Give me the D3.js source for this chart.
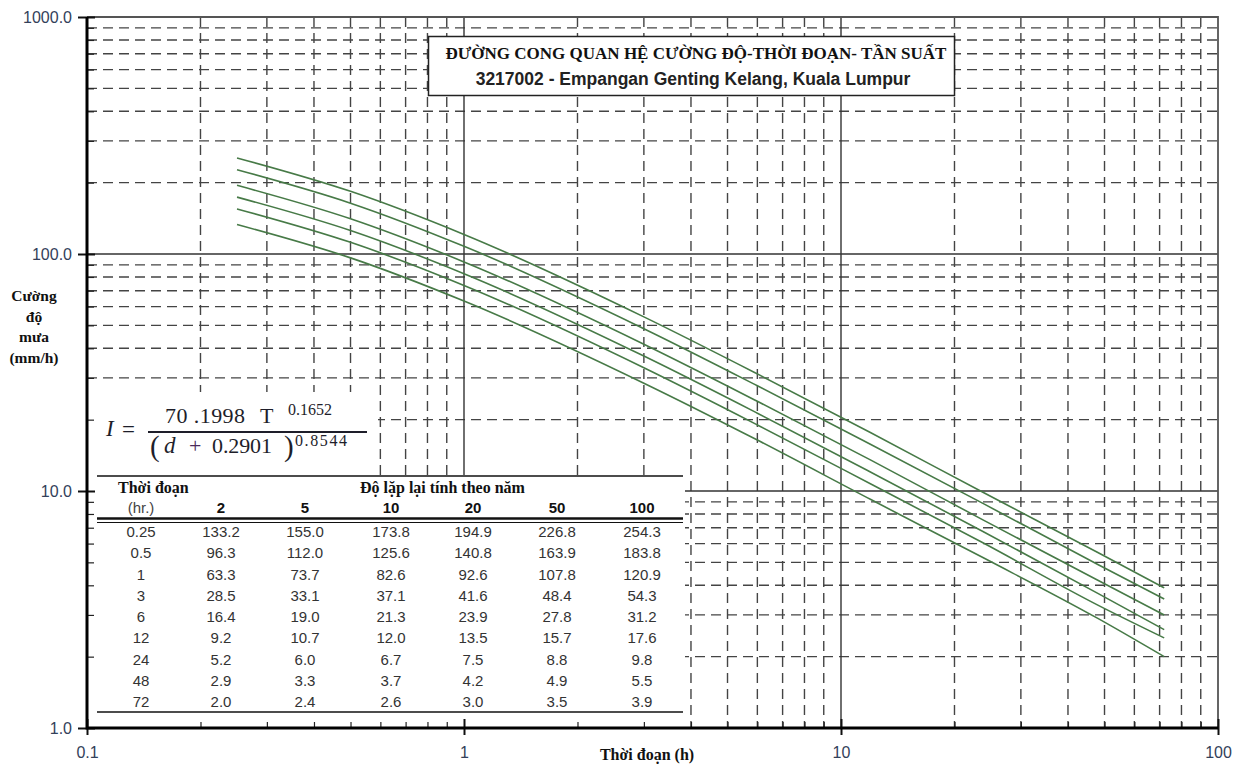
<!DOCTYPE html>
<html>
<head>
<meta charset="utf-8">
<script src="https://cdn.jsdelivr.net/npm/d3@7"></script>
<style>
  body { margin: 0; background: #fff; }
  svg { display: block; }
</style>
</head>
<body>
<div id="chart"></div>
<script>
const durations = [0.25, 0.5, 1, 3, 6, 12, 24, 48, 72];
const returnPeriods = [2, 5, 10, 20, 50, 100];
const intensity2 = [133.2, 96.3, 63.3, 28.5, 16.4, 9.2, 5.2, 2.9, 2.0];
const intensity5 = [155.0, 112.0, 73.7, 33.1, 19.0, 10.7, 6.0, 3.3, 2.4];
const intensity10 = [173.8, 125.6, 82.6, 37.1, 21.3, 12.0, 6.7, 3.7, 2.6];
const intensity20 = [194.9, 140.8, 92.6, 41.6, 23.9, 13.5, 7.5, 4.2, 3.0];
const intensity50 = [226.8, 163.9, 107.8, 48.4, 27.8, 15.7, 8.8, 4.9, 3.5];
const intensity100 = [254.3, 183.8, 120.9, 54.3, 31.2, 17.6, 9.8, 5.5, 3.9];
const xTicks = [0.1, 1, 10, 100];
const yTicks = [1, 10, 100, 1000];

const series = [intensity2, intensity5, intensity10, intensity20, intensity50, intensity100];

const width = 1251;
const height = 764;
const plot = { left: 87, right: 1218, top: 17, bottom: 728 };

const svg = d3
  .select("#chart")
  .append("svg")
  .attr("width", width)
  .attr("height", height);

const x = d3.scaleLog().domain([0.1, 100]).range([plot.left, plot.right]);
const y = d3.scaleLog().domain([1, 1000]).range([plot.bottom, plot.top]);

// minor values 2..9 of every decade
function minors(lo, hi) {
  const out = [];
  for (let p = lo; p < hi; p *= 10) {
    for (let k = 2; k <= 9; k++) out.push(+(p * k).toPrecision(3));
  }
  return out;
}
const xMinor = minors(0.1, 100);
const yMinor = minors(1, 1000);

const grid = svg.append("g");
grid
  .selectAll("line.vmin")
  .data(xMinor)
  .enter()
  .append("line")
  .attr("x1", (d) => x(d))
  .attr("x2", (d) => x(d))
  .attr("y1", plot.top)
  .attr("y2", plot.bottom)
  .attr("stroke", "#444")
  .attr("stroke-width", 1.4)
  .attr("stroke-dasharray", "10,6");

grid
  .selectAll("line.hmin")
  .data(yMinor)
  .enter()
  .append("line")
  .attr("x1", plot.left)
  .attr("x2", plot.right)
  .attr("y1", (d) => y(d))
  .attr("y2", (d) => y(d))
  .attr("stroke", "#444")
  .attr("stroke-width", 1.4)
  .attr("stroke-dasharray", "10,6");

grid
  .selectAll("line.vmaj")
  .data([1, 10])
  .enter()
  .append("line")
  .attr("x1", (d) => x(d))
  .attr("x2", (d) => x(d))
  .attr("y1", plot.top)
  .attr("y2", plot.bottom)
  .attr("stroke", "#333")
  .attr("stroke-width", 1.4);

grid
  .selectAll("line.hmaj")
  .data([10, 100])
  .enter()
  .append("line")
  .attr("x1", plot.left)
  .attr("x2", plot.right)
  .attr("y1", (d) => y(d))
  .attr("y2", (d) => y(d))
  .attr("stroke", "#333")
  .attr("stroke-width", 1.4);

// top / right frame
svg
  .append("path")
  .attr("d", `M${plot.left},${plot.top}H${plot.right}V${plot.bottom}`)
  .attr("fill", "none")
  .attr("stroke", "#555")
  .attr("stroke-width", 1.8);

// IDF curves
const line = d3
  .line()
  .x((d) => x(d[0]))
  .y((d) => y(d[1]))
  .curve(d3.curveMonotoneX);

svg
  .append("g")
  .selectAll("path")
  .data(series)
  .enter()
  .append("path")
  .attr("d", (vals) => line(durations.map((d, i) => [d, vals[i]])))
  .attr("fill", "none")
  .attr("stroke", "#477a47")
  .attr("stroke-width", 1.6);

// white panels for formula and table
svg.append("rect").attr("x", 88).attr("y", 392).attr("width", 290).attr("height", 84).attr("fill", "#fff");
svg.append("rect").attr("x", 88).attr("y", 475).attr("width", 597).attr("height", 252).attr("fill", "#fff");

// formula
const serif = "'Liberation Serif', 'Times New Roman', serif";
const f = svg.append("g").attr("font-family", serif).attr("fill", "#1e1e2a");
f.append("text").attr("x", 106).attr("y", 436).attr("font-size", 23).attr("font-style", "italic").text("I");
f.append("text").attr("x", 122).attr("y", 437).attr("font-size", 23).text("=");
f.append("line").attr("x1", 148).attr("x2", 367).attr("y1", 432).attr("y2", 432).attr("stroke", "#1e1e2a").attr("stroke-width", 1.8);
f.append("text").attr("x", 165).attr("y", 423).attr("font-size", 22).attr("textLength", 80).attr("lengthAdjust", "spacing").text("70 .1998");
f.append("text").attr("x", 260).attr("y", 423).attr("font-size", 22).text("T");
f.append("text").attr("x", 288).attr("y", 415).attr("font-size", 16).attr("textLength", 44).attr("lengthAdjust", "spacing").text("0.1652");
f.append("text").attr("x", 150).attr("y", 456).attr("font-size", 29).text("(");
f.append("text").attr("x", 164).attr("y", 453).attr("font-size", 23).attr("font-style", "italic").text("d");
f.append("text").attr("x", 189).attr("y", 453).attr("font-size", 22).attr("fill", "#4a2a5a").text("+");
f.append("text").attr("x", 212).attr("y", 453).attr("font-size", 22).attr("textLength", 60).attr("lengthAdjust", "spacing").text("0.2901");
f.append("text").attr("x", 284).attr("y", 456).attr("font-size", 29).text(")");
f.append("text").attr("x", 295).attr("y", 446).attr("font-size", 16).attr("textLength", 52).attr("lengthAdjust", "spacing").text("0.8544");

// table
const sans = "'Liberation Sans', Arial, sans-serif";
const colX = [141, 221, 305, 391, 473, 557, 642];
const tbl = svg.append("g");
tbl.append("line").attr("x1", 97).attr("x2", 683).attr("y1", 476).attr("y2", 476).attr("stroke", "#111").attr("stroke-width", 1.5);
tbl.append("line").attr("x1", 97).attr("x2", 683).attr("y1", 518.5).attr("y2", 518.5).attr("stroke", "#111").attr("stroke-width", 2.4);
tbl.append("line").attr("x1", 97).attr("x2", 683).attr("y1", 522.5).attr("y2", 522.5).attr("stroke", "#111").attr("stroke-width", 1);
tbl.append("line").attr("x1", 97).attr("x2", 683).attr("y1", 712).attr("y2", 712).attr("stroke", "#111").attr("stroke-width", 1.3);

tbl.append("text").attr("x", 118).attr("y", 493).attr("font-family", serif).attr("font-weight", "bold").attr("font-size", 16).attr("fill", "#111").text("Thời đoạn");
tbl.append("text").attr("x", 360).attr("y", 493).attr("font-family", serif).attr("font-weight", "bold").attr("font-size", 16).attr("fill", "#111").text("Độ lặp lại tính theo năm");
tbl.append("text").attr("x", colX[0]).attr("y", 513).attr("text-anchor", "middle").attr("font-family", sans).attr("font-size", 15).attr("fill", "#444").text("(hr.)");

tbl
  .selectAll("text.head")
  .data(returnPeriods)
  .enter()
  .append("text")
  .attr("x", (d, i) => colX[i + 1])
  .attr("y", 513)
  .attr("text-anchor", "middle")
  .attr("font-family", sans)
  .attr("font-weight", "bold")
  .attr("font-size", 15)
  .attr("fill", "#111")
  .text((d) => d);

const rows = tbl
  .selectAll("g.row")
  .data(durations)
  .enter()
  .append("g")
  .attr("transform", (d, i) => `translate(0,${537 + i * 21.25})`)
  .attr("font-family", sans)
  .attr("font-size", 15)
  .attr("fill", "#333")
  .attr("text-anchor", "middle");

rows.append("text").attr("x", colX[0]).text((d) => d);
rows.each(function (d, r) {
  const g = d3.select(this);
  series.forEach((vals, c) => {
    g.append("text").attr("x", colX[c + 1]).text(vals[r].toFixed(1));
  });
});

// axes
const labelColor = "#33415a";
const xAxis = svg
  .append("g")
  .attr("transform", `translate(0,${plot.bottom})`)
  .call(d3.axisBottom(x).tickValues(xTicks).tickSizeInner(7).tickSizeOuter(0).tickPadding(12).tickFormat(d3.format("~g")));
xAxis.select(".domain").remove();
xAxis.selectAll("text").attr("font-family", sans).attr("font-size", 16).attr("fill", labelColor);
xAxis.selectAll("line").attr("stroke", "#111").attr("stroke-width", 2);

const xIn = svg
  .append("g")
  .attr("transform", `translate(0,${plot.bottom})`)
  .call(d3.axisBottom(x).tickValues(xMinor).tickSizeInner(-6).tickSizeOuter(0).tickFormat(""));
xIn.select(".domain").remove();
xIn.selectAll("line").attr("stroke", "#222").attr("stroke-width", 1.2);

const xInMaj = svg
  .append("g")
  .attr("transform", `translate(0,${plot.bottom})`)
  .call(d3.axisBottom(x).tickValues(xTicks).tickSizeInner(-9).tickSizeOuter(0).tickFormat(""));
xInMaj.select(".domain").remove();
xInMaj.selectAll("line").attr("stroke", "#111").attr("stroke-width", 2);

const yAxis = svg
  .append("g")
  .attr("transform", `translate(${plot.left},0)`)
  .call(d3.axisLeft(y).tickValues(yTicks).tickSizeInner(9).tickSizeOuter(0).tickPadding(6).tickFormat(d3.format(".1f")));
yAxis.select(".domain").remove();
yAxis.selectAll("text").attr("font-family", sans).attr("font-size", 16).attr("fill", labelColor);
yAxis.selectAll("line").attr("stroke", "#111").attr("stroke-width", 2);

const yIn = svg
  .append("g")
  .attr("transform", `translate(${plot.left},0)`)
  .call(d3.axisLeft(y).tickValues(yMinor).tickSizeInner(-7).tickSizeOuter(0).tickFormat(""));
yIn.select(".domain").remove();
yIn.selectAll("line").attr("stroke", "#222").attr("stroke-width", 1.2);

const yInMaj = svg
  .append("g")
  .attr("transform", `translate(${plot.left},0)`)
  .call(d3.axisLeft(y).tickValues(yTicks).tickSizeInner(-8).tickSizeOuter(0).tickFormat(""));
yInMaj.select(".domain").remove();
yInMaj.selectAll("line").attr("stroke", "#111").attr("stroke-width", 2);

// thick left / bottom axis lines
svg
  .append("path")
  .attr("d", `M${plot.left},${plot.top}V${plot.bottom}H${plot.right}`)
  .attr("fill", "none")
  .attr("stroke", "#000")
  .attr("stroke-width", 3);

// axis titles
svg
  .append("text")
  .attr("x", 647)
  .attr("y", 760)
  .attr("text-anchor", "middle")
  .attr("font-family", serif)
  .attr("font-weight", "bold")
  .attr("font-size", 16)
  .attr("fill", "#111")
  .text("Thời đoạn (h)");

const yTitle = ["Cường", "độ", "mưa", "(mm/h)"];
svg
  .append("g")
  .selectAll("text")
  .data(yTitle)
  .enter()
  .append("text")
  .attr("x", 34)
  .attr("y", (d, i) => 301 + i * 20.5)
  .attr("text-anchor", "middle")
  .attr("font-family", serif)
  .attr("font-weight", "bold")
  .attr("font-size", 15.5)
  .attr("fill", "#111")
  .text((d) => d);

// title box
const tb = svg.append("g");
tb.append("rect")
  .attr("x", 428.5)
  .attr("y", 36.5)
  .attr("width", 526)
  .attr("height", 59)
  .attr("fill", "#fff")
  .attr("stroke", "#222")
  .attr("stroke-width", 1.5);
tb.append("text")
  .attr("x", 696)
  .attr("y", 58.5)
  .attr("text-anchor", "middle")
  .attr("font-family", serif)
  .attr("font-weight", "bold")
  .attr("font-size", 17)
  .attr("fill", "#111")
  .text("ĐƯỜNG CONG QUAN HỆ CƯỜNG ĐỘ-THỜI ĐOẠN- TẦN SUẤT");
tb.append("text")
  .attr("x", 693)
  .attr("y", 85)
  .attr("text-anchor", "middle")
  .attr("font-family", sans)
  .attr("font-weight", "bold")
  .attr("font-size", 17.5)
  .attr("fill", "#222")
  .text("3217002 - Empangan Genting Kelang, Kuala Lumpur");
</script>
</body>
</html>
